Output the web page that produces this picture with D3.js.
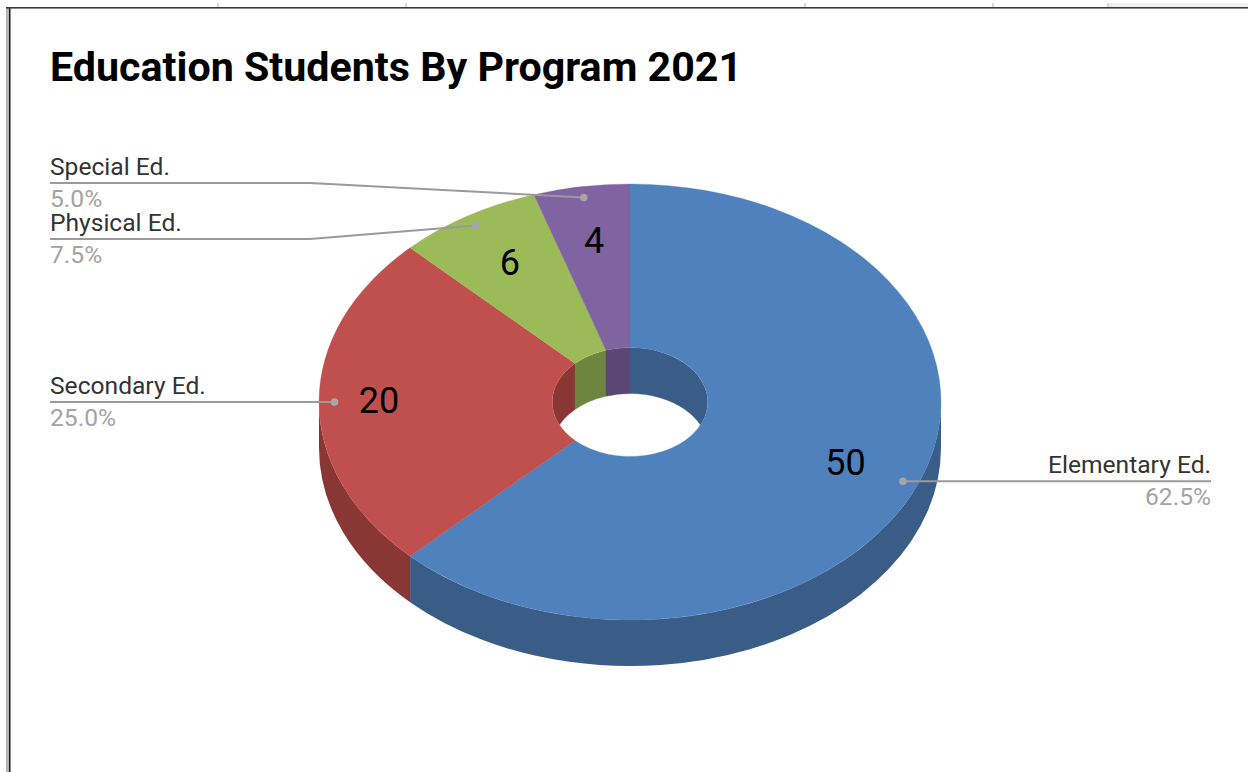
<!DOCTYPE html>
<html>
<head>
<meta charset="utf-8">
<title>Education Students By Program 2021</title>
<script src="https://cdn.jsdelivr.net/npm/d3@7"></script>
<style>
  html, body { margin: 0; padding: 0; background: #fff; overflow: hidden; }
  svg { display: block; font-family: Roboto, sans-serif; }
</style>
</head>
<body>
<svg id="chart" width="1248" height="772"></svg>
<script>
// Enrolment per program, in clockwise order from twelve o'clock
const programs = ["Elementary Ed.", "Secondary Ed.", "Physical Ed.", "Special Ed."];
const students = [50, 20, 6, 4];
const chartTitle = "Education Students By Program 2021";

const topColors = ["#4f81bd", "#c0504d", "#9bbb59", "#8064a2"];
const wallColors = ["#395d87", "#893735", "#6e8540", "#5b4773"];

// Leader line rows: null keeps the row level with the slice's anchor dot
const leaderRows = [null, null, 239, 183];
const valueLabelReach = [0.75, 0.807, 0.74, 0.74];

const svg = d3.select("#chart");
const cx = 630, cy = 402, rx = 311, ry = 218, depth = 46, holeRatio = 0.25;
const squash = ry / rx;
const holeRx = rx * holeRatio;

const total = d3.sum(students);
const pie = d3.pie().sort(null).value(d => d.value);
const slices = pie(programs.map((name, i) => ({ name, value: students[i], i })));
const percent = d3.format(".1%");

// Point on the squashed circle, angle measured clockwise from twelve o'clock
const px = (a, r) => cx + r * Math.sin(a);
const py = (a, r, dy = 0) => cy - r * squash * Math.cos(a) + dy;

// Band between an elliptical arc and the same arc pushed down by the slab depth
function wallPath(a0, a1, r) {
  const sweepDown = a1 > a0 ? 1 : 0;
  const large = Math.abs(a1 - a0) > Math.PI ? 1 : 0;
  const ar = `${r} ${r * squash} 0 ${large}`;
  return `M${px(a0, r)},${py(a0, r)}` +
         `A${ar} ${sweepDown} ${px(a1, r)},${py(a1, r)}` +
         `L${px(a1, r)},${py(a1, r, depth)}` +
         `A${ar} ${1 - sweepDown} ${px(a0, r)},${py(a0, r, depth)}Z`;
}

const frame = svg.append("g");
frame.append("rect").attr("x", 1108).attr("y", 3).attr("width", 140).attr("height", 4).attr("fill", "#efefef");
[218, 406, 805, 993, 1108].forEach(x => {
  frame.append("rect").attr("x", x - 1).attr("y", 3).attr("width", 2).attr("height", 4).attr("fill", "#d9d9d9");
});
frame.append("rect").attr("x", 6).attr("y", 7).attr("width", 3).attr("height", 765).attr("fill", "#b5b5b5");
frame.append("rect").attr("x", 9).attr("y", 7).attr("width", 1.5).attr("height", 765).attr("fill", "#1a1a1a");
frame.append("rect").attr("x", 6).attr("y", 7).attr("width", 1242).attr("height", 1.6).attr("fill", "#3a3a3a");

svg.append("text")
  .attr("x", 50).attr("y", 80.5)
  .attr("font-size", 41.2).attr("font-weight", 700).attr("fill", "#000")
  .text(chartTitle);

const plot = svg.append("g");

// Outer wall: only the front half of the slab is seen
const frontStart = Math.PI / 2, frontEnd = 3 * Math.PI / 2;
plot.selectAll("path.outer-wall")
  .data(slices.filter(d => d.endAngle > frontStart && d.startAngle < frontEnd))
  .join("path")
  .attr("class", "outer-wall")
  .attr("fill", d => wallColors[d.data.i])
  .attr("d", d => wallPath(Math.max(d.startAngle, frontStart), Math.min(d.endAngle, frontEnd), rx));

// Inner wall: the back half of the hole, visible through its opening
svg.append("defs").append("clipPath").attr("id", "hole-opening")
  .append("ellipse").attr("cx", cx).attr("cy", cy).attr("rx", holeRx).attr("ry", holeRx * squash);

const backRanges = [];
slices.forEach(d => {
  if (d.startAngle < frontStart) backRanges.push({ i: d.data.i, a0: d.startAngle, a1: Math.min(d.endAngle, frontStart) });
  if (d.endAngle > frontEnd) backRanges.push({ i: d.data.i, a0: Math.max(d.startAngle, frontEnd), a1: d.endAngle });
});
plot.append("g").attr("clip-path", "url(#hole-opening)")
  .selectAll("path")
  .data(backRanges)
  .join("path")
  .attr("fill", d => wallColors[d.i])
  .attr("stroke", d => wallColors[d.i])
  .attr("stroke-width", 0.4)
  .attr("d", d => wallPath(d.a0, d.a1, holeRx));

// Top face: a flat donut squashed into the tilted plane
const arc = d3.arc().innerRadius(holeRx).outerRadius(rx);
plot.append("g")
  .attr("transform", `translate(${cx},${cy}) scale(1,${squash})`)
  .selectAll("path")
  .data(slices)
  .join("path")
  .attr("fill", d => topColors[d.data.i])
  .attr("stroke", d => topColors[d.data.i])
  .attr("stroke-width", 0.4)
  .attr("d", arc);

// Leader lines with their anchor dots
const anchorReach = 0.95;
const anchor = d => {
  const mid = (d.startAngle + d.endAngle) / 2;
  return [px(mid, rx * anchorReach), py(mid, rx * anchorReach)];
};
const isRightSide = d => (d.startAngle + d.endAngle) / 2 < Math.PI;
const leftEdge = 50, rightEdge = 1211, elbowX = 310;
const rowOf = d => leaderRows[d.data.i] ?? anchor(d)[1];

const leaders = svg.append("g");
leaders.selectAll("path")
  .data(slices)
  .join("path")
  .attr("fill", "none").attr("stroke", "#9a9a9a").attr("stroke-width", 2)
  .attr("d", d => {
    const [ax, ay] = anchor(d);
    const row = rowOf(d);
    if (isRightSide(d)) return `M${ax},${ay}L${rightEdge},${row}`;
    return leaderRows[d.data.i] === null
      ? `M${leftEdge},${row}L${ax},${ay}`
      : `M${leftEdge},${row}L${elbowX},${row}L${ax},${ay}`;
  });
leaders.selectAll("circle")
  .data(slices)
  .join("circle")
  .attr("cx", d => anchor(d)[0]).attr("cy", d => anchor(d)[1])
  .attr("r", 3.8).attr("fill", "#a6a6a6");

// Program name above the leader, share below it
const labels = svg.append("g").attr("font-size", 24.6);
labels.selectAll("text.name")
  .data(slices)
  .join("text")
  .attr("class", "name")
  .attr("x", d => isRightSide(d) ? rightEdge : leftEdge)
  .attr("y", d => rowOf(d) - 8.5)
  .attr("text-anchor", d => isRightSide(d) ? "end" : "start")
  .attr("fill", "#333")
  .text(d => d.data.name);
labels.selectAll("text.share")
  .data(slices)
  .join("text")
  .attr("class", "share")
  .attr("x", d => isRightSide(d) ? rightEdge : leftEdge)
  .attr("y", d => rowOf(d) + 23.5)
  .attr("text-anchor", d => isRightSide(d) ? "end" : "start")
  .attr("fill", "#a3a3a3")
  .text(d => percent(d.data.value / total));

// Student counts on the slices
svg.append("g").attr("font-size", 36).attr("fill", "#000")
  .selectAll("text")
  .data(slices)
  .join("text")
  .attr("text-anchor", "middle")
  .attr("dominant-baseline", "central")
  .attr("x", d => px((d.startAngle + d.endAngle) / 2, rx * valueLabelReach[d.data.i]))
  .attr("y", d => py((d.startAngle + d.endAngle) / 2, rx * valueLabelReach[d.data.i]) - 1.5)
  .text(d => d.data.value);
</script>
</body>
</html>
